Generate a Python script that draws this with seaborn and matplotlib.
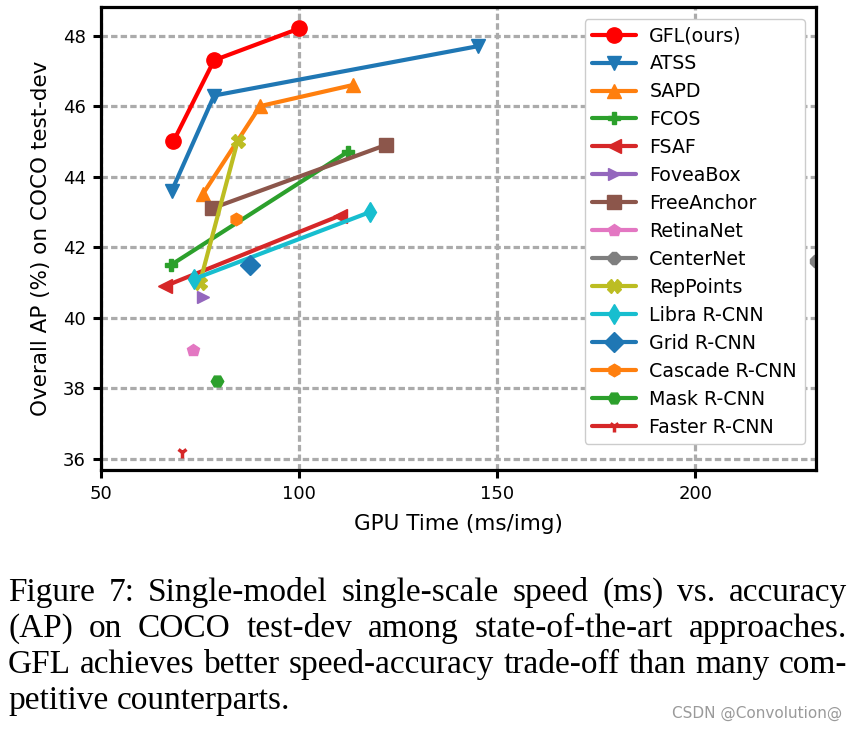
import matplotlib
matplotlib.use("Agg")
import matplotlib.pyplot as plt
import seaborn as sns

methods = ["GFL(ours)", "ATSS", "SAPD", "FCOS", "FSAF", "FoveaBox", "FreeAnchor",
           "RetinaNet", "CenterNet", "RepPoints", "Libra R-CNN", "Grid R-CNN",
           "Cascade R-CNN", "Mask R-CNN", "Faster R-CNN"]
gpu_time = [
    [68.2, 78.5, 100.0],
    [67.8, 78.5, 145.2],
    [75.6, 90.1, 113.6],
    [67.6, 112.2],
    [66.1, 110.3],
    [75.8],
    [77.9, 121.9],
    [73.2],
    [230.5],
    [74.9, 84.4],
    [73.4, 117.9],
    [87.5],
    [83.9],
    [79.1],
    [70.3],
]
ap = [
    [45.0, 47.3, 48.2],
    [43.6, 46.3, 47.7],
    [43.5, 46.0, 46.6],
    [41.5, 44.7],
    [40.9, 42.9],
    [40.6],
    [43.1, 44.9],
    [39.1],
    [41.6],
    [41.0, 45.0],
    [41.1, 43.0],
    [41.5],
    [42.8],
    [38.2],
    [36.2],
]
x_ticks = [50, 100, 150, 200]
y_ticks = [36, 38, 40, 42, 44, 46, 48]
caption_lines = [
    "Figure 7: Single-model single-scale speed (ms) vs.  accuracy",
    "(AP) on COCO test-dev among state-of-the-art approaches.",
    "GFL achieves better speed-accuracy trade-off than many com-",
    "petitive counterparts.",
]
watermark = "CSDN @Convolution@"

sns.set_style("ticks")
plt.rcParams['font.family'] = ['DejaVu Sans']
plt.rcParams['text.color'] = 'black'
plt.rcParams['axes.labelcolor'] = 'black'
plt.rcParams['xtick.color'] = 'black'
plt.rcParams['ytick.color'] = 'black'

tab = sns.color_palette("tab10").as_hex()
colors = ["#ff0000", tab[0], tab[1], tab[2], tab[3], tab[4], tab[5], tab[6], tab[7],
          tab[8], tab[9], tab[0], tab[1], tab[2], tab[3]]
markers = ['o', 'v', '^', 'P', '<', '>', 's', 'p', '8', 'X', 'd', 'D', 'h', 'H', '1']
msizes = [11, 10.5, 10.5, 9, 10, 9, 10, 9, 9, 9.5, 10.5, 10.5, 9, 9, 8]

W, H = 857, 730
fig = plt.figure(figsize=(W / 100, H / 100), dpi=100)
ax = fig.add_axes([101.3 / W, 1 - 470 / H, (816 - 101.3) / W, (470 - 7.3) / H])

for i, name in enumerate(methods):
    sns.lineplot(x=gpu_time[i], y=ap[i], ax=ax, sort=False, label=name,
                 color=colors[i], lw=3, marker=markers[i], markersize=msizes[i],
                 markeredgecolor=colors[i], markerfacecolor=colors[i],
                 markeredgewidth=2.5 if markers[i] == '1' else 1.0)

ax.set_xlim(50, 230.5)
ax.set_ylim(35.69, 48.8)
ax.set_xticks(x_ticks)
ax.set_yticks(y_ticks)
ax.set_axisbelow(True)
ax.grid(True, color='#ababab', linestyle=(0, (2, 1)), lw=2.3)
for s in ax.spines.values():
    s.set_linewidth(2.3)
    s.set_color('black')
ax.tick_params(axis='both', direction='out', length=6, width=2.2, labelsize=13,
               pad=5, color='black', labelcolor='black')
ax.set_xlabel("GPU Time (ms/img)", fontsize=15.5, labelpad=8)
ax.set_ylabel("Overall AP (%) on COCO test-dev", fontsize=15.5, labelpad=9)

leg = ax.legend(loc='upper right', fontsize=13.7, labelspacing=0.47, handlelength=2.3,
                handletextpad=0.7, borderaxespad=0.6, framealpha=1,
                edgecolor='#cccccc', fancybox=True)

# caption
renderer = fig.canvas.get_renderer()
left_px, right_px = 8, 847
baselines = [601, 637, 673, 709]
cap_fs = 24
for li, (line, yb) in enumerate(zip(caption_lines, baselines)):
    words = line.split()
    texts = [fig.text(0, 1 - yb / H, w, fontsize=cap_fs, family='Liberation Serif',
                      va='baseline', ha='left', color='black') for w in words]
    widths = [t.get_window_extent(renderer).width for t in texts]
    if li < 3 and len(words) > 1:
        gap = (right_px - left_px - sum(widths)) / (len(words) - 1)
    else:
        t_ab = fig.text(0, 0, "a b", fontsize=cap_fs, family='Liberation Serif')
        wab = t_ab.get_window_extent(renderer).width
        t_ab.remove()
        t_a = fig.text(0, 0, "ab", fontsize=cap_fs, family='Liberation Serif')
        gap = wab - t_a.get_window_extent(renderer).width
        t_a.remove()
    x = left_px
    for t, w in zip(texts, widths):
        t.set_x(x / W)
        x += w + gap

fig.text(842 / W, 1 - 718 / H, watermark, fontsize=11, color='#9a9a9a',
         ha='right', va='baseline', family='DejaVu Sans')

fig.savefig("out.png", dpi=100)
